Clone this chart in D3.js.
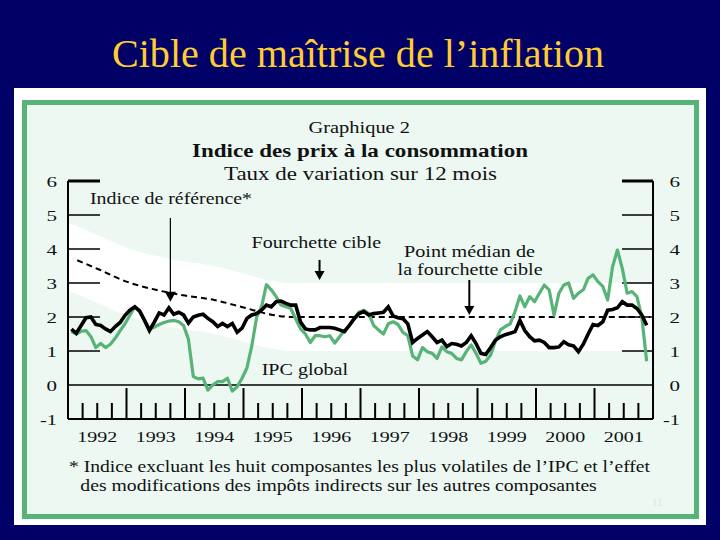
<!DOCTYPE html>
<html>
<head>
<meta charset="utf-8" />
<title>Cible de maîtrise de l'inflation</title>
<script src="https://cdn.jsdelivr.net/npm/d3@7/dist/d3.min.js"></script>
<style>
    body { margin: 0; background: #000066; overflow: hidden; }
    text { font-family: "Liberation Serif", "Times New Roman", serif; }
</style>
</head>
<body>
<svg id="chart" width="720" height="540"></svg>
<script>
    // year labels under the axis
    var years = [1992, 1993, 1994, 1995, 1996, 1997, 1998, 1999, 2000, 2001];
    var yTickValues = [1, 2, 3, 4, 5, 6];
    var yLabelValues = [-1, 0, 1, 2, 3, 4, 5, 6];

    // Indice de référence (12-month rate, monthly from Jan 1992)
    var cpiCore = [
        1.64, 1.52, 1.75, 1.98, 2.00, 1.78, 1.75, 1.65, 1.57, 1.72, 1.84, 2.05,
        2.20, 2.30, 2.18, 1.90, 1.60, 1.85, 2.12, 2.06, 2.27, 2.08, 2.14, 2.06,
        1.82, 2.00, 2.05, 2.08, 1.96, 1.86, 1.72, 1.81, 1.72, 1.81, 1.55, 1.67,
        1.96, 2.06, 2.10, 2.20, 2.35, 2.30, 2.45, 2.47, 2.40, 2.35, 2.35, 1.85,
        1.65, 1.62, 1.62, 1.69, 1.69, 1.69, 1.67, 1.62, 1.57, 1.75, 1.95, 2.10,
        2.16, 2.06, 2.10, 2.12, 2.14, 2.30, 2.03, 1.98, 1.95, 1.80, 1.25, 1.37,
        1.47, 1.57, 1.42, 1.25, 1.32, 1.13, 1.22, 1.20, 1.15, 1.25, 1.45, 1.22,
        0.93, 0.90, 1.10, 1.32, 1.42, 1.48, 1.52, 1.57, 1.90, 1.60, 1.42, 1.30,
        1.32, 1.25, 1.10, 1.10, 1.12, 1.27, 1.18, 1.15, 0.98, 1.20, 1.50, 1.78,
        1.75, 1.86, 2.20, 2.22, 2.27, 2.45, 2.35, 2.35, 2.25, 2.06, 1.76
    ];

    // IPC global
    var cpiTotal = [
        1.57, 1.50, 1.58, 1.60, 1.42, 1.10, 1.22, 1.10, 1.20, 1.38, 1.60, 1.80,
        2.05, 2.30, 2.15, 1.90, 1.65, 1.70, 1.78, 1.84, 1.88, 1.90, 1.86, 1.75,
        1.35, 0.25, 0.18, 0.20, -0.15, 0.00, 0.10, 0.10, 0.20, -0.18, -0.05, 0.20,
        0.50, 1.15, 2.00, 2.30, 2.95, 2.80, 2.60, 2.35, 2.30, 2.25, 1.95, 1.65,
        1.50, 1.25, 1.45, 1.45, 1.42, 1.45, 1.23, 1.42, 1.60, 1.75, 1.95, 2.15,
        2.20, 2.10, 1.75, 1.62, 1.50, 1.80, 1.86, 1.78, 1.55, 1.45, 0.85, 0.74,
        1.10, 0.98, 0.93, 0.78, 1.12, 0.98, 0.93, 0.78, 0.74, 0.98, 1.18, 0.93,
        0.64, 0.70, 0.88, 1.30, 1.62, 1.72, 1.80, 2.16, 2.62, 2.30, 2.60, 2.45,
        2.70, 2.94, 2.80, 2.05, 2.70, 2.94, 3.00, 2.55, 2.70, 2.80, 3.14, 3.24,
        3.04, 2.90, 2.50, 3.48, 3.97, 3.43, 2.70, 2.75, 2.60, 2.00, 0.70
    ];

    // point médian de la fourchette cible (band = médian +/- 1)
    var targetYears = [1992.0, 1992.5, 1993.0, 1993.5, 1994.0, 1994.5, 1995.0, 1995.5, 1995.85, 2002.0];
    var targetMid = [3.78, 3.42, 3.04, 2.80, 2.63, 2.50, 2.28, 2.06, 2.00, 2.00];

    var navy = "#000066", green = "#58b377", mint = "#ecf8f1";

    var svg = d3.select("#chart");
    svg.append("rect").attr("width", 720).attr("height", 540).attr("fill", navy);

    svg.append("text")
        .attr("x", 358).attr("y", 67)
        .attr("text-anchor", "middle")
        .attr("font-size", 39)
        .attr("fill", "#ffcc33")
        .attr("textLength", 492).attr("lengthAdjust", "spacingAndGlyphs")
        .text("Cible de maîtrise de l’inflation");

    // white card and green frame
    svg.append("rect").attr("x", 14).attr("y", 88).attr("width", 692).attr("height", 437).attr("fill", "#ffffff");
    svg.append("rect").attr("x", 24.5).attr("y", 102.5).attr("width", 672).attr("height", 414)
        .attr("fill", mint).attr("stroke", green).attr("stroke-width", 5);

    var x = d3.scaleLinear().domain([1992, 2002]).range([68, 653]);
    var y = d3.scaleLinear().domain([-1, 6]).range([419, 181]);

    function monthX(i) { return x(1992 + (i + 0.7) / 12); }

    var target = targetYears.map(function (d, i) { return { t: d, v: targetMid[i] }; });

    svg.append("clipPath").attr("id", "plotClip")
        .append("rect").attr("x", x(1992)).attr("y", y(6)).attr("width", x(2002) - x(1992)).attr("height", y(-1) - y(6));
    svg.append("clipPath").attr("id", "midClip")
        .append("rect").attr("x", x(1992.1)).attr("y", y(6)).attr("width", x(2001.95) - x(1992.1)).attr("height", y(-1) - y(6));

    // fourchette cible
    var band = d3.area()
        .x(function (d) { return x(d.t); })
        .y0(function (d) { return y(d.v - 1); })
        .y1(function (d) { return y(d.v + 1); })
        .curve(d3.curveMonotoneX);
    svg.append("path").datum(target).attr("d", band).attr("fill", "#ffffff").attr("clip-path", "url(#plotClip)");

    // axes frame
    var axisG = svg.append("g").attr("stroke", "#000");
    axisG.append("line").attr("x1", x(1992)).attr("x2", x(2002)).attr("y1", y(0)).attr("y2", y(0)).attr("stroke-width", 1.5);
    axisG.append("line").attr("x1", x(1992)).attr("x2", x(2002)).attr("y1", y(-1)).attr("y2", y(-1)).attr("stroke-width", 2);
    axisG.append("line").attr("x1", x(1992)).attr("x2", x(1992)).attr("y1", y(6)).attr("y2", y(-1)).attr("stroke-width", 2);
    axisG.append("line").attr("x1", x(2002)).attr("x2", x(2002)).attr("y1", y(6)).attr("y2", y(-1)).attr("stroke-width", 2);

    axisG.selectAll(".ytl").data(yTickValues).enter().append("line")
        .attr("x1", x(1992)).attr("x2", x(1992) + 32)
        .attr("y1", function (d) { return y(d); }).attr("y2", function (d) { return y(d); })
        .attr("stroke-width", function (d) { return d == 6 ? 3 : 1.5; });
    axisG.selectAll(".ytr").data(yTickValues).enter().append("line")
        .attr("x1", x(2002) - 31).attr("x2", x(2002))
        .attr("y1", function (d) { return y(d); }).attr("y2", function (d) { return y(d); })
        .attr("stroke-width", function (d) { return d == 6 ? 3 : 1.5; });

    // x ticks: years tall, quarters short
    var quarters = [];
    years.forEach(function (yr) { quarters.push(yr + 0.25, yr + 0.5, yr + 0.75); });
    axisG.selectAll(".xq").data(quarters).enter().append("line")
        .attr("x1", function (d) { return x(d); }).attr("x2", function (d) { return x(d); })
        .attr("y1", y(-0.53)).attr("y2", y(-1)).attr("stroke-width", 2);
    axisG.selectAll(".xy").data(years.slice(1)).enter().append("line")
        .attr("x1", function (d) { return x(d); }).attr("x2", function (d) { return x(d); })
        .attr("y1", y(-0.09)).attr("y2", y(-1)).attr("stroke-width", 2);

    // point médian (dashed)
    var midLine = d3.line().x(function (d) { return x(d.t); }).y(function (d) { return y(d.v); }).curve(d3.curveMonotoneX);
    svg.append("path").datum(target).attr("d", midLine)
        .attr("fill", "none").attr("stroke", "#000").attr("stroke-width", 2)
        .attr("stroke-dasharray", "6,4").attr("clip-path", "url(#midClip)");

    var serie = d3.line().x(function (d, i) { return monthX(i); }).y(function (d) { return y(d); });
    svg.append("path").datum(cpiTotal).attr("d", serie)
        .attr("fill", "none").attr("stroke", green).attr("stroke-width", 3.2).attr("stroke-linejoin", "round");
    svg.append("path").datum(cpiCore).attr("d", serie)
        .attr("fill", "none").attr("stroke", "#000").attr("stroke-width", 3.6).attr("stroke-linejoin", "miter");

    // texts
    function label(txt, px, py, size, len, anchor, weight) {
        var t = svg.append("text")
            .attr("x", px).attr("y", py)
            .attr("font-size", size)
            .attr("fill", "#111")
            .attr("text-anchor", anchor || "start")
            .text(txt);
        if (len) t.attr("textLength", len).attr("lengthAdjust", "spacingAndGlyphs");
        if (weight) t.attr("font-weight", weight);
        return t;
    }

    label("Graphique 2", 308.5, 133, 16.5, 101.5);
    label("Indice des prix à la consommation", 192, 157, 18.5, 336, "start", "bold");
    label("Taux de variation sur 12 mois", 224, 180, 19, 273);

    yLabelValues.forEach(function (v) {
        var s = String(v);
        label(s, 57, y(v) + 5.5, 14, s.length > 1 ? 17 : 10.5, "end");
        label(s, 680, y(v) + 5.5, 14, s.length > 1 ? 17 : 10.5, "end");
    });

    years.forEach(function (yr) {
        label(String(yr), x(yr + 0.5), 441.7, 15, 40, "middle");
    });

    label("Indice de référence*", 90, 204, 16, 162);
    label("Fourchette cible", 251.6, 248.3, 16.5, 129.5);
    label("Point médian de", 404, 257.3, 16.5, 131);
    label("la fourchette cible", 397.6, 275, 16.5, 145);
    label("IPC global", 261.7, 375, 17.5, 86.3);

    label("* Indice excluant les huit composantes les plus volatiles de l’IPC et l’effet", 69, 472.3, 16, 581);
    label("des modifications des impôts indirects sur les autres composantes", 80.3, 490.7, 16, 516.5);

    svg.append("text").attr("x", 652).attr("y", 506).attr("font-size", 11).attr("fill", "#d4ece0").text("11");

    // arrows
    function arrow(t, vTop, vTip, w, head, half) {
        var ax = x(t), y0 = y(vTop), y1 = y(vTip);
        svg.append("line").attr("x1", ax).attr("x2", ax).attr("y1", y0).attr("y2", y1 - head + 1)
            .attr("stroke", "#000").attr("stroke-width", w);
        svg.append("path")
            .attr("d", "M" + (ax - half) + "," + (y1 - head) + "L" + (ax + half) + "," + (y1 - head) + "L" + ax + "," + y1 + "Z")
            .attr("fill", "#000");
    }
    arrow(1993.75, 4.91, 2.45, 1.2, 10, 5.5);
    arrow(1996.3, 3.68, 3.09, 2, 9, 5);
    arrow(1998.86, 3.09, 2.06, 2, 9, 5);
</script>
</body>
</html>
